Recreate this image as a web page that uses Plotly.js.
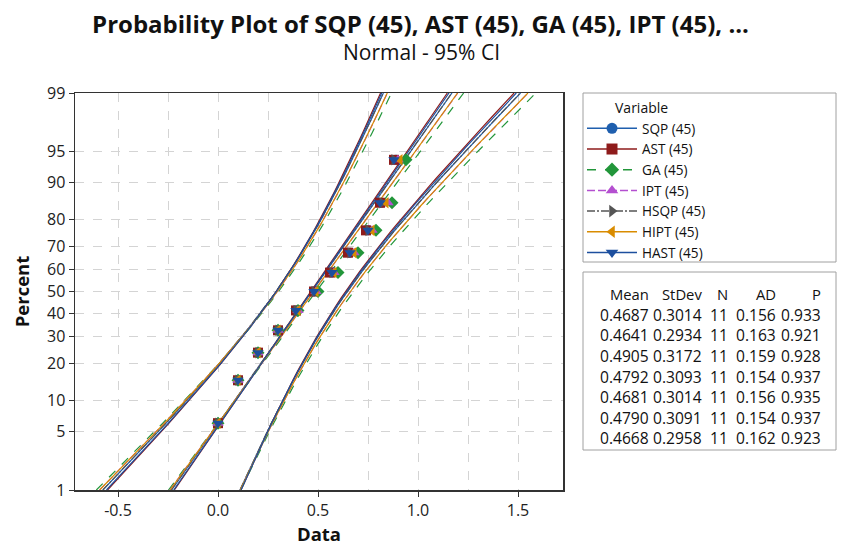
<!DOCTYPE html>
<html>
<head>
<meta charset="utf-8">
<script src="https://cdn.plot.ly/plotly-3.0.1.min.js"></script>
<style>html,body{margin:0;padding:0;background:#fff;}#chart{width:841px;height:546px;}</style>
</head>
<body>
<div id="chart"></div>
<script>
// ---- data ----
const variables = ["SQP (45)", "AST (45)", "GA (45)", "IPT (45)", "HSQP (45)", "HIPT (45)", "HAST (45)"];
const sqp  = [0.00, 0.10, 0.20, 0.30, 0.39, 0.48, 0.57, 0.66, 0.75, 0.82, 0.89];
const ast  = [0.00, 0.10, 0.20, 0.30, 0.39, 0.48, 0.56, 0.65, 0.74, 0.81, 0.88];
const ga   = [0.00, 0.10, 0.20, 0.30, 0.40, 0.50, 0.60, 0.70, 0.79, 0.87, 0.94];
const ipt  = [0.00, 0.10, 0.20, 0.30, 0.40, 0.49, 0.58, 0.68, 0.77, 0.85, 0.90];
const hsqp = [0.00, 0.10, 0.20, 0.30, 0.39, 0.48, 0.57, 0.66, 0.75, 0.82, 0.88];
const hipt = [0.00, 0.10, 0.20, 0.30, 0.40, 0.49, 0.58, 0.68, 0.77, 0.84, 0.91];
const hast = [0.00, 0.10, 0.20, 0.30, 0.39, 0.48, 0.57, 0.66, 0.75, 0.81, 0.88];
const means  = [0.4687, 0.4641, 0.4905, 0.4792, 0.4681, 0.4790, 0.4668];
const stdevs = [0.3014, 0.2934, 0.3172, 0.3093, 0.3014, 0.3091, 0.2958];
const ns     = [11, 11, 11, 11, 11, 11, 11];
const ads    = [0.156, 0.163, 0.159, 0.154, 0.156, 0.154, 0.162];
const ps     = [0.933, 0.921, 0.928, 0.937, 0.935, 0.937, 0.923];
const percentTicks = [1, 5, 10, 20, 30, 40, 50, 60, 70, 80, 90, 95, 99];
const xTicks = [-0.5, 0.0, 0.5, 1.0, 1.5];

// ---- styles ----
const seriesData = [sqp, ast, ga, ipt, hsqp, hipt, hast];
const colors = ["#1f5fae", "#8e1b1b", "#22963a", "#b44fd0", "#555555", "#d98c00", "#1d4f9e"];
const symbols = ["circle", "square", "diamond", "triangle-up", "triangle-right", "triangle-left", "triangle-down"];
const dashes = ["solid", "solid", "dash", "8px,3px", "8px,2px,2px,2px", "solid", "solid"];

function norminv(p){
  const a=[-3.969683028665376e+01,2.209460984245205e+02,-2.759285104469687e+02,1.383577518672690e+02,-3.066479806614716e+01,2.506628277459239e+00];
  const b=[-5.447609879822406e+01,1.615858368580409e+02,-1.556989798598866e+02,6.680131188771972e+01,-1.328068155288572e+01];
  const c=[-7.784894002430293e-03,-3.223964580411365e-01,-2.400758277161838e+00,-2.549732539343734e+00,4.374664141464968e+00,2.938163982698783e+00];
  const d=[7.784695709041462e-03,3.224671290700398e-01,2.445134137142996e+00,3.754408661907416e+00];
  const pl=0.02425, ph=1-pl; let q,r;
  if(p<pl){q=Math.sqrt(-2*Math.log(p));return (((((c[0]*q+c[1])*q+c[2])*q+c[3])*q+c[4])*q+c[5])/((((d[0]*q+d[1])*q+d[2])*q+d[3])*q+1);}
  if(p<=ph){q=p-0.5;r=q*q;return (((((a[0]*r+a[1])*r+a[2])*r+a[3])*r+a[4])*r+a[5])*q/(((((b[0]*r+b[1])*r+b[2])*r+b[3])*r+b[4])*r+1);}
  q=Math.sqrt(-2*Math.log(1-p));return -(((((c[0]*q+c[1])*q+c[2])*q+c[3])*q+c[4])*q+c[5])/((((d[0]*q+d[1])*q+d[2])*q+d[3])*q+1);
}

const zmin = norminv(0.01), zmax = norminv(0.99);
const traces = [];
// fit lines and 95% CI bands
seriesData.forEach((vals, k) => {
  const m = means[k], s = stdevs[k], n = ns[k];
  const zs = [], fit = [], lo = [], hi = [];
  for (let i = 0; i <= 60; i++) {
    const z = zmin + (zmax - zmin) * i / 60;
    const f = m + z * s;
    const h = 1.96 * s * Math.sqrt(1 / n + z * z / (2 * n));
    zs.push(z); fit.push(f); lo.push(f - h); hi.push(f + h);
  }
  [fit, lo, hi].forEach(xs => {
    traces.push({x: xs, y: zs, mode: "lines", showlegend: false, hoverinfo: "skip",
      line: {color: colors[k], width: 1.2, dash: dashes[k]}});
  });
});
// points
seriesData.forEach((vals, k) => {
  const sorted = vals.slice().sort((a, b) => a - b);
  const n = sorted.length;
  const ys = sorted.map((v, i) => norminv((i + 1 - 0.3) / (n + 0.4)));
  traces.push({x: sorted, y: ys, mode: "markers", showlegend: false,
    marker: {color: colors[k], symbol: symbols[k], size: 10}});
});
// legend entries
seriesData.forEach((vals, k) => {
  traces.push({x: [null], y: [null], mode: "lines+markers", name: variables[k], showlegend: true,
    marker: {color: colors[k], symbol: symbols[k], size: 11},
    line: {color: colors[k], width: 1.5, dash: dashes[k]}});
});

// geometry helpers (plot area: x 75..563, y 93..490)
const L = 75, R = 563, T = 93, B = 490;
const px = v => (v - L) / (R - L);
const py = v => (B - v) / (B - T);

const FS = 15.6;
const annotations = [];
annotations.push({x: px(641), y: py(107), xref: "paper", yref: "paper", text: "Variable",
  showarrow: false, xanchor: "center", yanchor: "middle", font: {size: 14, color: "#111"}});
// stats table
const headers = ["Mean", "StDev", "N", "AD", "P"];
const colRight = [651, 704, 730, 778, 823];
const rowsY = [294, 315, 335, 356, 377, 397, 418, 438];
const cols = [means.map(v => v.toFixed(4)), stdevs.map(v => v.toFixed(4)), ns.map(String),
              ads.map(v => v.toFixed(3)), ps.map(v => v.toFixed(3))];
headers.forEach((h, c) => {
  annotations.push({x: px(colRight[c]), y: py(rowsY[0]), xref: "paper", yref: "paper", text: h,
    showarrow: false, xanchor: "right", yanchor: "middle", font: {size: 14.8, color: "#111"}});
  cols[c].forEach((t, r) => {
    annotations.push({x: px(colRight[c]), y: py(rowsY[r + 1]), xref: "paper", yref: "paper", text: t,
      showarrow: false, xanchor: "right", yanchor: "middle", font: {size: FS, color: "#111"}});
  });
});
// subtitle
annotations.push({x: px(421), y: py(52), xref: "paper", yref: "paper", text: "Normal - 95% CI", showarrow: false,
  xanchor: "center", yanchor: "middle", font: {size: 21, color: "#111"}});

const shapes = [
  {type: "rect", xref: "paper", yref: "paper", x0: px(583), x1: px(836), y0: py(93), y1: py(262),
   line: {color: "#a0a0a0", width: 1}},
  {type: "rect", xref: "paper", yref: "paper", x0: px(583), x1: px(836), y0: py(272), y1: py(450),
   line: {color: "#a0a0a0", width: 1}}
];

const layout = {
  width: 841, height: 546,
  margin: {l: L, r: 841 - R, t: T, b: 546 - B},
  paper_bgcolor: "#fff", plot_bgcolor: "#fff",
  font: {family: "Open Sans, Noto Sans, sans-serif", color: "#111"},
  title: {text: "<b>Probability Plot of SQP (45), AST (45), GA (45), IPT (45), ...</b>",
    x: 0.5, xref: "container", xanchor: "center", y: 1 - 25 / 546, yanchor: "middle", font: {size: 24, color: "#111"}},
  xaxis: {range: [-0.715, 1.725], tickvals: xTicks, ticktext: xTicks.map(v => v.toFixed(1)),
    ticks: "outside", ticklen: 5, tickcolor: "#333", showline: true, linecolor: "#333", linewidth: 1.5, mirror: true,
    showgrid: true, gridcolor: "#d4d4d4", griddash: "dash", gridwidth: 1, zeroline: false,
    minor: {dtick: 0.25, tick0: 0, showgrid: true, gridcolor: "#d4d4d4", griddash: "dash", ticks: ""},
    tickfont: {size: 16, color: "#222"},
    title: {text: "<b>Data</b>", font: {size: 18.5, color: "#111"}, standoff: 6}},
  yaxis: {range: [zmin, zmax], tickvals: percentTicks.map(p => norminv(p / 100)), ticktext: percentTicks.map(String),
    ticks: "outside", ticklen: 5, tickcolor: "#333", showline: true, linecolor: "#333", linewidth: 1.5, mirror: true,
    showgrid: true, gridcolor: "#d4d4d4", griddash: "dash", gridwidth: 1, zeroline: false,
    tickfont: {size: 16, color: "#222"},
    title: {text: "<b>Percent</b>", font: {size: 18.5, color: "#111"}, standoff: 12}},
  legend: {x: px(582), y: py(113), xanchor: "left", yanchor: "top", bgcolor: "rgba(0,0,0,0)",
    borderwidth: 0, font: {size: 13.6, color: "#111"}, itemwidth: 50, tracegroupgap: 0},
  showlegend: true,
  annotations: annotations,
  shapes: shapes
};

Plotly.newPlot("chart", traces, layout, {displayModeBar: false, staticPlot: true});
</script>
</body>
</html>
